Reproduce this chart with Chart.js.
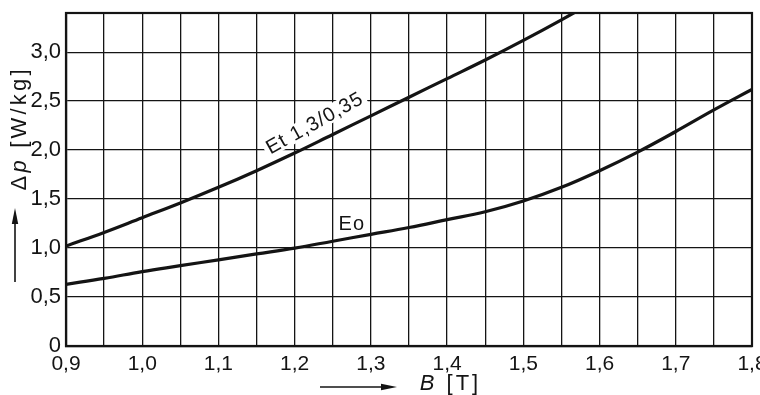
<!DOCTYPE html>
<html>
<head>
<meta charset="utf-8">
<script src="https://cdn.jsdelivr.net/npm/chart.js@4.4.1/dist/chart.umd.min.js"></script>
<style>
  html, body { margin: 0; padding: 0; background: #fff; }
</style>
</head>
<body>
<canvas id="grafico" width="760" height="395"></canvas>
<script>
// data
const bEt = [0.9, 0.95, 1.0, 1.05, 1.1, 1.15, 1.2, 1.25, 1.3, 1.35, 1.4, 1.45, 1.5, 1.55, 1.6];
const pEt = [1.02, 1.16, 1.31, 1.46, 1.62, 1.79, 1.97, 2.16, 2.35, 2.54, 2.73, 2.92, 3.12, 3.33, 3.55];

const bEo = [0.9, 0.95, 1.0, 1.05, 1.1, 1.15, 1.2, 1.25, 1.3, 1.35, 1.4, 1.45, 1.5, 1.55, 1.6, 1.65, 1.7, 1.75, 1.8];
const pEo = [0.63, 0.69, 0.76, 0.82, 0.88, 0.94, 1.0, 1.07, 1.14, 1.21, 1.29, 1.37, 1.48, 1.62, 1.79, 1.98, 2.19, 2.41, 2.62];

const xTickLabels = ['0,9', '1,0', '1,1', '1,2', '1,3', '1,4', '1,5', '1,6', '1,7', '1,8'];
const yTickLabels = ['0', '0,5', '1,0', '1,5', '2,0', '2,5', '3,0'];

const curveNames = ['Et 1,3/0,35', 'Eo'];

const INK = '#141414';
const SANS = "'Liberation Sans', Arial, sans-serif";

function pares(xs, ys) {
    return xs.map((x, i) => ({ x: x, y: ys[i] }));
}

// text in pieces (for the italic letters), optionally rotated, with letter spacing
function textoPecas(ctx, pecas, cx, cy, ang, espaco) {
    ctx.save();
    ctx.translate(cx, cy);
    ctx.rotate(ang);
    ctx.textBaseline = 'middle';
    ctx.textAlign = 'left';
    let total = 0;
    for (const p of pecas) {
        ctx.font = p.font;
        for (const ch of p.t) total += ctx.measureText(ch).width + espaco;
    }
    total -= espaco;
    let x = -total / 2;
    for (const p of pecas) {
        ctx.font = p.font;
        for (const ch of p.t) {
            ctx.fillText(ch, x, 0);
            x += ctx.measureText(ch).width + espaco;
        }
    }
    ctx.restore();
}

function seta(ctx, x1, y1, x2, y2) {
    const ang = Math.atan2(y2 - y1, x2 - x1);
    ctx.save();
    ctx.strokeStyle = INK;
    ctx.fillStyle = INK;
    ctx.lineWidth = 1.6;
    ctx.beginPath();
    ctx.moveTo(x1, y1);
    ctx.lineTo(x2 - 10 * Math.cos(ang), y2 - 10 * Math.sin(ang));
    ctx.stroke();
    ctx.translate(x2, y2);
    ctx.rotate(ang);
    ctx.beginPath();
    ctx.moveTo(0, 0);
    ctx.lineTo(-16, -3.2);
    ctx.lineTo(-16, 3.2);
    ctx.closePath();
    ctx.fill();
    ctx.restore();
}

function rotulo(ctx, texto, cx, cy, ang, tam) {
    ctx.save();
    ctx.translate(cx, cy);
    ctx.rotate(ang);
    ctx.font = tam + 'px ' + SANS;
    ctx.letterSpacing = '1px';
    const w = ctx.measureText(texto).width;
    ctx.fillStyle = '#fff';
    ctx.fillRect(-w / 2 - 3, -tam * 0.45, w + 6, tam * 0.9);
    ctx.fillStyle = INK;
    ctx.textAlign = 'center';
    ctx.textBaseline = 'middle';
    ctx.fillText(texto, 0, 1);
    ctx.restore();
}

const extras = {
    id: 'extras',
    beforeDatasetsDraw(chart) {
        const ctx = chart.ctx;
        const sx = chart.scales.x;
        const sy = chart.scales.y;
        // curve labels, under the curves
        rotulo(ctx, curveNames[0], sx.getPixelForValue(1.226), sy.getPixelForValue(2.28), -29 * Math.PI / 180, 20);
        rotulo(ctx, curveNames[1], sx.getPixelForValue(1.275), sy.getPixelForValue(1.255), 0, 20);
    },
    afterDraw(chart) {
        const ctx = chart.ctx;
        const a = chart.chartArea;

        // frame
        ctx.save();
        ctx.strokeStyle = INK;
        ctx.lineWidth = 2.2;
        ctx.strokeRect(a.left, a.top, a.right - a.left, a.bottom - a.top);
        ctx.restore();

        // axis titles
        ctx.save();
        ctx.fillStyle = INK;
        textoPecas(ctx, [
            { t: 'Δ', font: '22px ' + SANS },
            { t: 'p', font: 'italic 22px ' + SANS },
            { t: ' [W/kg]', font: '22px ' + SANS }
        ], 20, 130, -Math.PI / 2, 3.2);
        textoPecas(ctx, [
            { t: 'B', font: 'italic 22px ' + SANS },
            { t: ' [T]', font: '22px ' + SANS }
        ], 449, 384, 0, 3);
        ctx.restore();

        seta(ctx, 15, 282, 15, 208);
        seta(ctx, 320, 387, 397, 387);
    }
};

new Chart(document.getElementById('grafico').getContext('2d'), {
    type: 'line',
    data: {
        datasets: [
            {
                label: curveNames[0],
                data: pares(bEt, pEt),
                borderColor: INK,
                borderWidth: 3.2,
                pointRadius: 0,
                tension: 0.4,
                fill: false
            },
            {
                label: curveNames[1],
                data: pares(bEo, pEo),
                borderColor: INK,
                borderWidth: 3.2,
                pointRadius: 0,
                tension: 0.4,
                fill: false
            }
        ]
    },
    options: {
        responsive: false,
        animation: false,
        devicePixelRatio: 1,
        layout: { padding: { left: 0, top: 13, right: 8, bottom: 0 } },
        plugins: {
            legend: { display: false },
            tooltip: { enabled: false }
        },
        scales: {
            x: {
                type: 'linear',
                min: 0.9,
                max: 1.8,
                ticks: {
                    stepSize: 0.05,
                    autoSkip: false,
                    maxRotation: 0,
                    padding: 6,
                    color: INK,
                    font: { family: SANS, size: 21 },
                    callback: (v, i) => (i % 2 === 0 ? xTickLabels[i / 2] : '')
                },
                grid: { color: INK, lineWidth: 1.3, drawTicks: false },
                border: { color: INK, width: 2.2 },
                afterFit(scale) {
                    scale.height = 49;
                    scale.paddingLeft = 0;
                    scale.paddingRight = 0;
                }
            },
            y: {
                type: 'linear',
                min: 0,
                max: 3.4,
                ticks: {
                    stepSize: 0.5,
                    padding: 5,
                    color: INK,
                    font: { family: SANS, size: 22 },
                    callback: (v, i) => (i < yTickLabels.length ? yTickLabels[i] : '')
                },
                grid: { color: INK, lineWidth: 1.3, drawTicks: false },
                border: { color: INK, width: 2.2 },
                afterFit(scale) {
                    scale.width = 66;
                    scale.paddingTop = 0;
                    scale.paddingBottom = 0;
                }
            }
        }
    },
    plugins: [extras]
});
</script>
</body>
</html>
